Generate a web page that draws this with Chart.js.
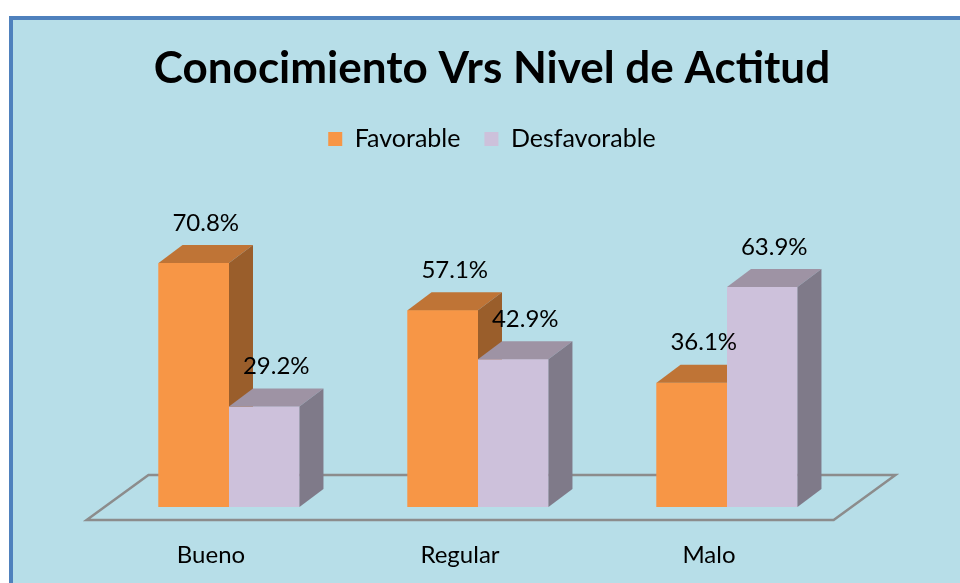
<!DOCTYPE html>
<html lang="es">
<head>
  <meta charset="UTF-8">
  <title>Conocimiento Vrs Nivel de Actitud</title>
  <script src="https://cdn.jsdelivr.net/npm/chart.js@4.4.1/dist/chart.umd.min.js"></script>
  <style>
    html, body { margin: 0; padding: 0; background: #fff; overflow: hidden; }
    /* panel azul claro con borde a la izquierda y arriba */
    .panel {
      position: absolute; left: 9px; top: 16px; width: 980px; height: 600px;
      background: #B7DEE8; border-left: 4px solid #4F81BD; border-top: 4px solid #4F81BD;
    }
    canvas { position: absolute; left: 0; top: 0; }
  </style>
</head>
<body>
  <div class="panel"></div>
  <canvas id="chart" width="960" height="583"></canvas>

  <script>
    // datos
    const categories = ['Bueno', 'Regular', 'Malo'];
    const seriesNames = ['Favorable', 'Desfavorable'];
    const favorable = [70.8, 57.1, 36.1];
    const desfavorable = [29.2, 42.9, 63.9];

    // colores: frente, tapa, lateral
    const faceColors = [
      { front: '#F79646', top: '#BF7436', side: '#9A5E2B' },
      { front: '#CDC1DB', top: '#9E93A4', side: '#7F7A89' }
    ];
    const DX = 24, DY = 18;   // profundidad 3D

    // piso en perspectiva
    const floorPlugin = {
      id: 'floor',
      beforeDatasetsDraw(chart) {
        const { ctx, chartArea } = chart;
        const base = chart.scales.y.getPixelForValue(0);
        const k = DX / DY * 1.03;
        const fy = base + 13, by = base - 32;
        ctx.save();
        ctx.strokeStyle = '#8C8C8C';
        ctx.lineWidth = 2.5;
        ctx.beginPath();
        ctx.moveTo(chartArea.left - 13 * k, fy);
        ctx.lineTo(chartArea.right - 13 * k, fy);
        ctx.lineTo(chartArea.right + 32 * k, by);
        ctx.lineTo(chartArea.left + 32 * k, by);
        ctx.closePath();
        ctx.stroke();
        ctx.restore();
      }
    };

    // barras 3D: se repintan en orden de serie para que la segunda tape el lateral de la primera
    const bar3dPlugin = {
      id: 'bar3d',
      afterDatasetsDraw(chart) {
        const { ctx } = chart;
        chart.data.datasets.forEach((ds, i) => {
          const c = faceColors[i];
          chart.getDatasetMeta(i).data.forEach(el => {
            el.draw(ctx, chart.chartArea);
            const p = el.getProps(['x', 'y', 'base', 'width'], true);
            const l = p.x - p.width / 2, r = p.x + p.width / 2;
            ctx.save();
            ctx.fillStyle = c.top;
            ctx.beginPath();
            ctx.moveTo(l, p.y);
            ctx.lineTo(l + DX, p.y - DY);
            ctx.lineTo(r + DX, p.y - DY);
            ctx.lineTo(r, p.y);
            ctx.closePath();
            ctx.fill();
            ctx.fillStyle = c.side;
            ctx.beginPath();
            ctx.moveTo(r, p.y);
            ctx.lineTo(r + DX, p.y - DY);
            ctx.lineTo(r + DX, p.base - DY);
            ctx.lineTo(r, p.base);
            ctx.closePath();
            ctx.fill();
            ctx.restore();
          });
        });

        // etiquetas de valor
        ctx.save();
        ctx.fillStyle = '#000';
        ctx.font = '24px Lato';
        ctx.textAlign = 'center';
        ctx.textBaseline = 'middle';
        chart.data.datasets.forEach((ds, i) => {
          chart.getDatasetMeta(i).data.forEach((el, j) => {
            const p = el.getProps(['x', 'y'], true);
            ctx.fillText(ds.data[j].toFixed(1) + '%', p.x + DX / 2, p.y - DY - 22);
          });
        });
        ctx.restore();
      }
    };

    new Chart(document.getElementById('chart'), {
      type: 'bar',
      data: {
        labels: categories,
        datasets: [
          { label: seriesNames[0], data: favorable, backgroundColor: faceColors[0].front },
          { label: seriesNames[1], data: desfavorable, backgroundColor: faceColors[1].front }
        ]
      },
      options: {
        responsive: false,
        animation: false,
        categoryPercentage: 0.566,
        barPercentage: 1,
        borderWidth: 0,
        layout: { padding: { left: 24, right: 0, top: 0, bottom: 0 } },
        plugins: {
          title: {
            display: true,
            text: 'Conocimiento Vrs Nivel de Actitud',
            color: '#000',
            font: { family: 'Lato', size: 44, weight: 'bold' },
            padding: { top: 42, bottom: 7.7 }
          },
          legend: {
            labels: {
              color: '#000',
              font: { family: 'Lato', size: 25 },
              boxWidth: 14,
              boxHeight: 14,
              padding: 24
            }
          },
          tooltip: { enabled: false }
        },
        scales: {
          x: {
            grid: { display: false, drawTicks: false },
            border: { display: false },
            ticks: { color: '#000', font: { family: 'Lato', size: 24 }, padding: 34, labelOffset: -18 },
            afterFit: s => { s.height = 76; }
          },
          y: {
            min: 0,
            max: 100.3,
            grid: { display: false, drawTicks: false },
            border: { display: false },
            ticks: { display: false },
            afterFit: s => { s.width = 80.5; }
          },
          yR: {
            position: 'right',
            grid: { display: false, drawTicks: false },
            border: { display: false },
            ticks: { display: false },
            afterFit: s => { s.width = 108.5; }
          }
        }
      },
      plugins: [floorPlugin, bar3dPlugin]
    });
  </script>
</body>
</html>
